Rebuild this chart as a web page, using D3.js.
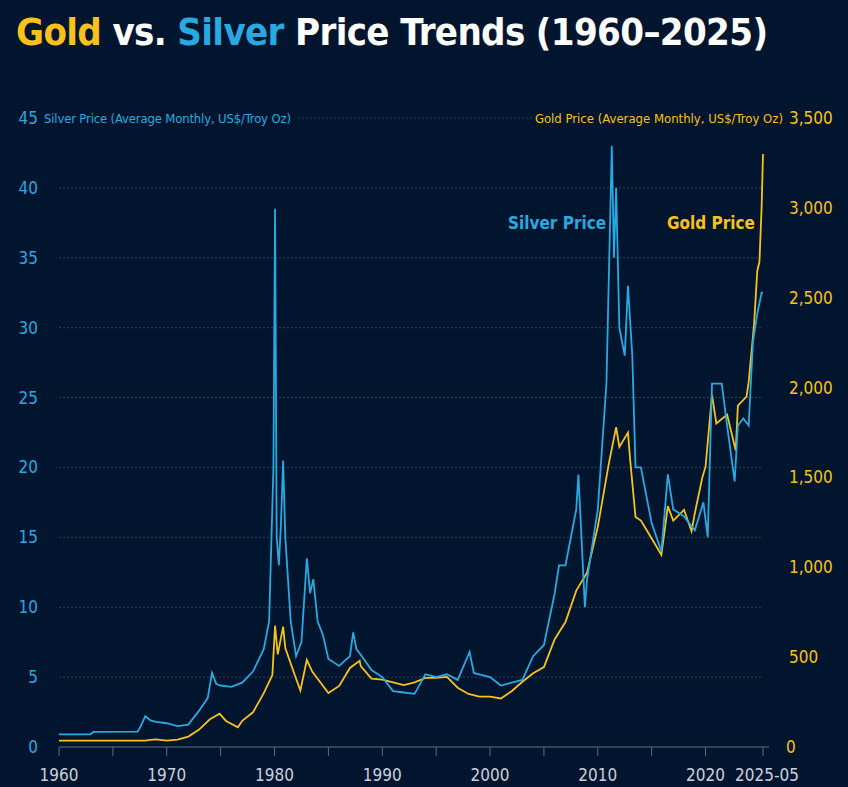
<!DOCTYPE html><html><head><meta charset="utf-8"><script src="https://cdn.jsdelivr.net/npm/d3@7"></script>
<style>body{margin:0;background:#02152e}svg{display:block}</style></head><body><svg width="848" height="787"></svg>
<script>
const silverT=[1960,1962.9,1963.2,1967.3,1967.6,1968,1968.5,1969,1970,1971,1972,1973,1973.8,1974.2,1974.6,1975,1976,1977,1978,1979,1979.5,1979.9,1980.05,1980.2,1980.4,1980.6,1980.8,1981,1981.5,1982,1982.5,1983,1983.3,1983.6,1984,1984.5,1985,1986,1987,1987.3,1987.6,1988,1989,1990,1991,1992,1993,1994,1995,1996,1997,1998.1,1998.5,1999,2000,2001,2002,2003,2004,2005,2006,2006.4,2007,2008,2008.2,2008.8,2009,2010,2010.8,2011.3,2011.5,2011.7,2012,2012.5,2012.8,2013.2,2013.5,2014,2015,2015.9,2016.5,2017,2018,2019,2019.8,2020.2,2020.6,2021,2021.5,2022,2022.7,2023,2023.5,2024,2024.4,2024.8,2025.2,2025.33];
const silverV=[0.91,0.91,1.08,1.1,1.5,2.2,1.9,1.8,1.7,1.5,1.6,2.6,3.5,5.3,4.5,4.4,4.3,4.6,5.4,7,9,20,38.5,15,13,16,20.5,15,9,6.5,7.5,13.5,11,12,9,8,6.3,5.8,6.5,8.2,7,6.6,5.5,5,4,3.9,3.8,5.2,5.0,5.2,4.8,6.8,5.3,5.2,5.0,4.4,4.6,4.8,6.5,7.3,11,13,13,17,19.5,10,12,17,26,43,35,40,30,28,33,28,20,20,16,14,19.5,17,16.5,15.5,17.5,15,26,26,26,23,19,23,23.5,23,29,31,32.5,32.5];
const goldT=[1960,1968,1968.5,1969,1970,1971,1972,1973,1974,1974.9,1975.5,1976.6,1977,1978,1979,1979.8,1980.05,1980.3,1980.8,1981,1982,1982.4,1983,1983.5,1984,1985,1986,1987,1987.9,1988,1989,1990,1991,1992,1993,1994,1995,1996,1997,1998,1999,2000,2001,2002,2003,2004,2005,2006,2007,2008,2009,2010,2011,2011.7,2012,2012.8,2013,2013.5,2014,2015,2015.9,2016.5,2017,2018,2018.7,2019,2019.7,2020,2020.6,2021,2022,2022.8,2023,2023.8,2024,2024.5,2024.8,2025,2025.2,2025.33];
const goldV=[35,35,40,42,36,41,58,97,154,185,145,110,146,193,300,400,675,515,670,550,380,315,485,420,380,300,340,440,480,450,380,375,360,345,360,385,385,390,330,295,280,280,270,310,363,410,445,600,695,870,970,1225,1570,1780,1670,1750,1600,1280,1260,1160,1070,1340,1260,1320,1200,1300,1500,1560,1960,1800,1850,1650,1900,1950,2030,2350,2650,2700,3000,3300];
const xTicks=[1960,1965,1970,1975,1980,1985,1990,1995,2000,2005,2010,2015,2020,2025.33];
const xLabels=[1960,1970,1980,1990,2000,2010,2020];
const silverTicks=[0,5,10,15,20,25,30,35,40,45];
const goldTicks=[0,500,1000,1500,2000,2500,3000,3500];
const SC="#29a9e1",GC="#f7c21b";
const svg=d3.select("svg");
const x=d3.scaleLinear().domain([1960,2025.33]).range([59,763]);
const ys=d3.scaleLinear().domain([0,45]).range([747,118]);
const yg=d3.scaleLinear().domain([0,3500]).range([747,118]);
const F="'DejaVu Sans Condensed','Liberation Sans Narrow',sans-serif";
const t=svg.append("text").attr("x",16).attr("y",45).attr("font-family",F).attr("font-weight","bold").attr("font-size",38).attr("textLength",752);
t.append("tspan").attr("fill",GC).text("Gold");
t.append("tspan").attr("fill","#fff").text(" vs. ");
t.append("tspan").attr("fill",SC).text("Silver");
t.append("tspan").attr("fill","#fff").text(" Price Trends (1960–2025)");
svg.append("g").selectAll("line").data(silverTicks.slice(1,9)).join("line")
 .attr("x1",59).attr("x2",763).attr("y1",d=>ys(d)).attr("y2",d=>ys(d))
 .attr("stroke","#3b4d66").attr("stroke-dasharray","2,2").attr("stroke-width",0.8);
svg.append("line").attr("x1",298).attr("x2",532).attr("y1",118).attr("y2",118).attr("stroke","#3b4d66").attr("stroke-dasharray","2,2").attr("stroke-width",0.8);
svg.append("g").selectAll("text").data(silverTicks).join("text").attr("x",38).attr("y",d=>ys(d)+6)
 .attr("text-anchor","end").attr("fill",SC).attr("font-family",F).attr("font-size",17).text(d=>d);
svg.append("text").attr("x",44).attr("y",123).attr("fill",SC).attr("font-family",F).attr("font-size",13).attr("textLength",247).text("Silver Price (Average Monthly, US$/Troy Oz)");
svg.append("g").selectAll("text").data(goldTicks).join("text").attr("x",d=>d==0?786:789).attr("y",d=>yg(d)+6)
 .attr("fill",GC).attr("font-family",F).attr("font-size",17).text(d=>d3.format(",")(d));
svg.append("text").attr("x",783).attr("y",123).attr("text-anchor","end").attr("fill",GC).attr("font-family",F).attr("font-size",13).text("Gold Price (Average Monthly, US$/Troy Oz)");
const xa=svg.append("g").attr("transform","translate(0,747)");
xa.append("line").attr("x1",59).attr("x2",769).attr("stroke","#5d6c80").attr("stroke-width",1.2);
xa.selectAll("line.t").data(xTicks).join("line").attr("class","t").attr("x1",d=>x(d)).attr("x2",d=>x(d)).attr("y1",0).attr("y2",9).attr("stroke","#5d6c80");
xa.selectAll("text").data(xLabels).join("text").attr("x",d=>x(d)).attr("y",34).attr("text-anchor","middle").attr("fill","#c9d1dc").attr("font-family",F).attr("font-size",17).text(d=>d);
xa.append("text").attr("x",x(2025.33)+4).attr("y",34).attr("text-anchor","middle").attr("fill","#c9d1dc").attr("font-family",F).attr("font-size",17).text("2025-05");
const ls=d3.line().x(d=>x(d[0])).y(d=>ys(d[1]));
const lg=d3.line().x(d=>x(d[0])).y(d=>yg(d[1]));
svg.append("path").attr("d",lg(goldT.map((t,i)=>[t,goldV[i]]))).attr("fill","none").attr("stroke",GC).attr("stroke-width",1.8);
svg.append("path").attr("d",ls(silverT.map((t,i)=>[t,silverV[i]]))).attr("fill","none").attr("stroke",SC).attr("stroke-width",1.8);
svg.append("text").attr("x",508).attr("y",229).attr("fill",SC).attr("font-family",F).attr("font-weight","bold").attr("font-size",17).text("Silver Price");
svg.append("text").attr("x",667).attr("y",229).attr("fill",GC).attr("font-family",F).attr("font-weight","bold").attr("font-size",17).text("Gold Price");
</script></body></html>
